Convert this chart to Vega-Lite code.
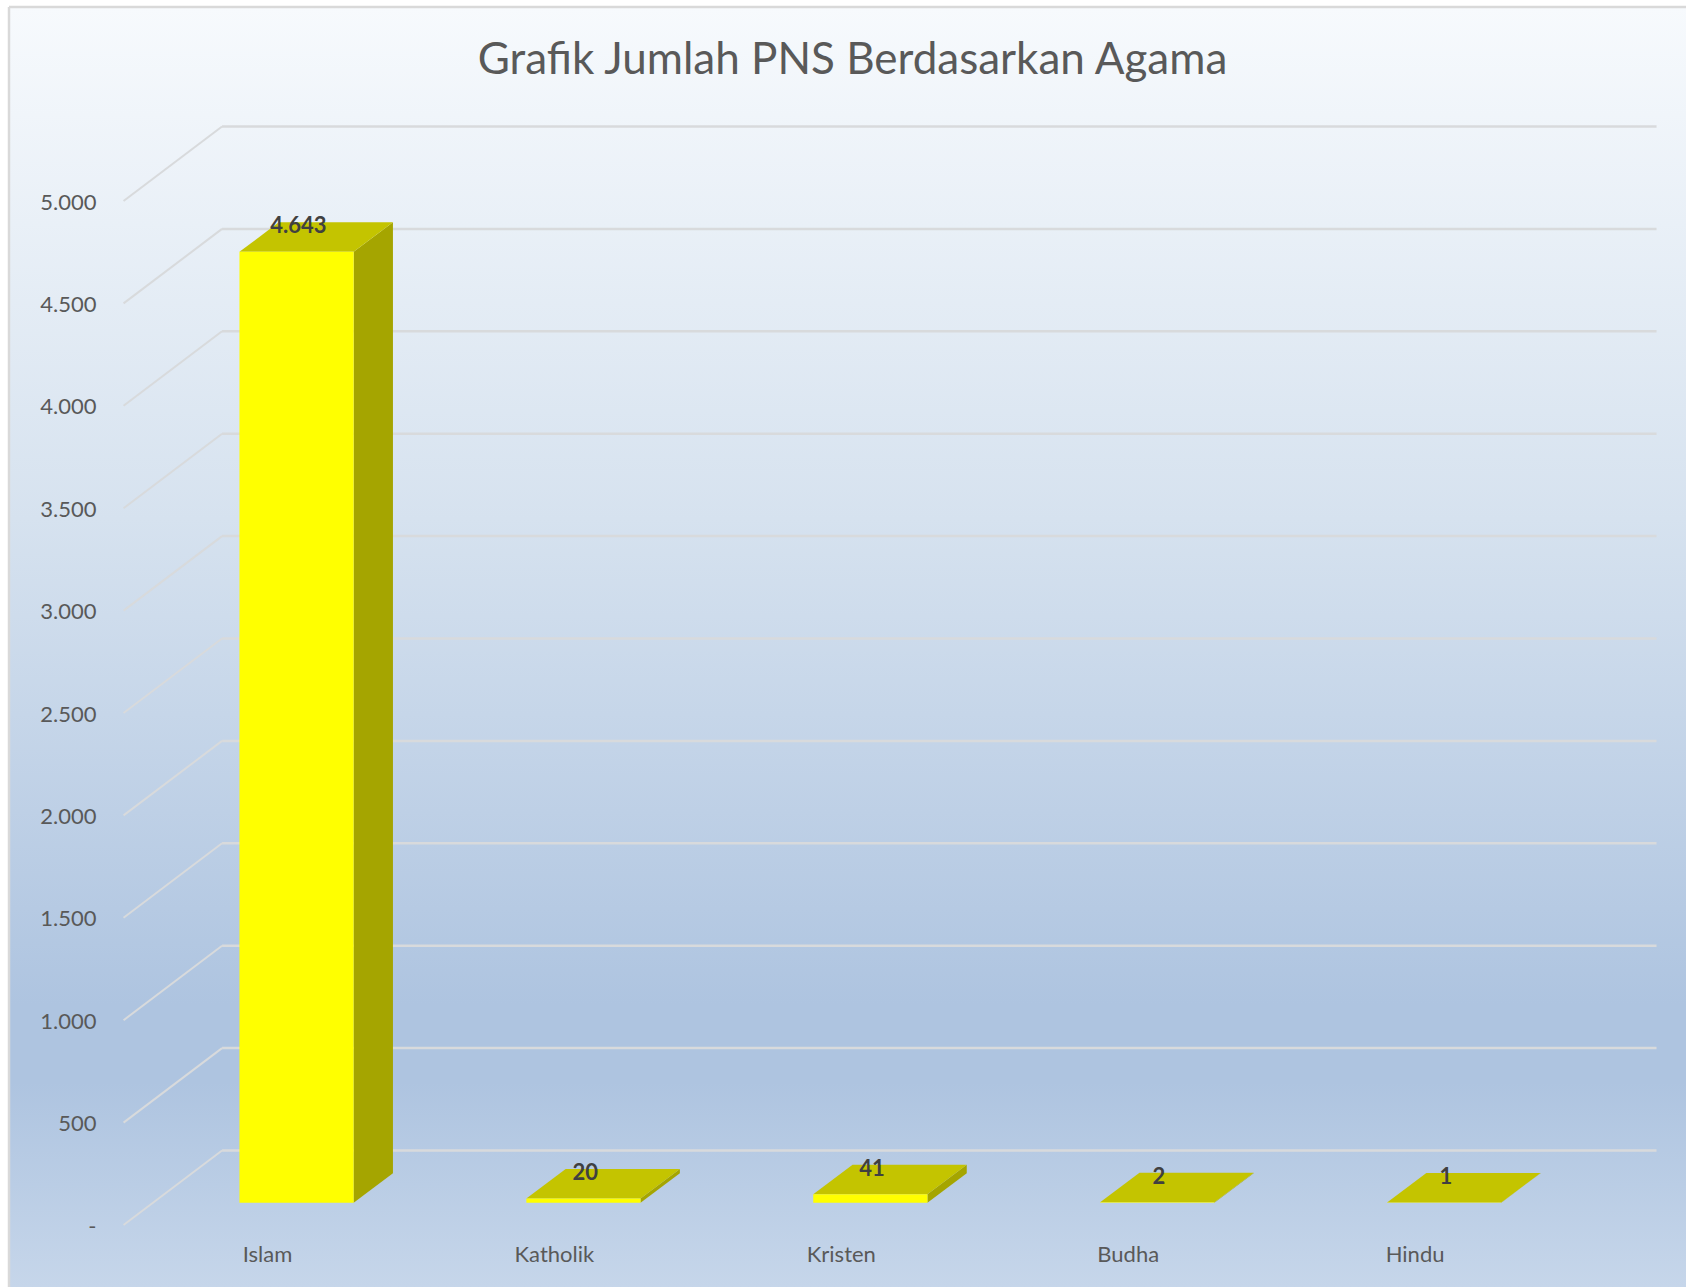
{
  "$schema": "https://vega.github.io/schema/vega-lite/v6.json",
  "width": 1677,
  "height": 1280,
  "autosize": {"type": "none"},
  "padding": {"left": 9, "top": 7, "right": 0, "bottom": 0},
  "background": "#ffffff",
  "view": {
    "stroke": null,
    "fill": {"gradient": "linear", "x1": 0, "y1": 0, "x2": 0, "y2": 1, "stops": [
      {"offset": 0, "color": "#f7fafd"},
      {"offset": 0.4, "color": "#d6e2ef"},
      {"offset": 0.78, "color": "#aec4e0"},
      {"offset": 0.84, "color": "#aec4e0"},
      {"offset": 1, "color": "#c6d6ea"}
    ]}
  },
  "title": {
    "text": "Grafik Jumlah PNS Berdasarkan Agama",
    "font": "Lato",
    "fontSize": 44,
    "fontWeight": "normal",
    "color": "#595959",
    "anchor": "middle",
    "frame": "group",
    "baseline": "middle",
    "offset": -99,
    "dx": 5
  },
  "config": {
    "axisX": {"title": null, "orient": "bottom", "offset": -43, "domain": false, "ticks": false, "grid": false, "labelPadding": 0, "labelFont": "Lato", "labelFontSize": 22, "labelColor": "#595959", "labelBaseline": "top", "labelAlign": "center"},
    "axisY": {"title": null, "orient": "left", "offset": -87, "domain": false, "ticks": false, "grid": false, "labelPadding": 0, "labelOffset": 1, "labelFont": "Lato", "labelFontSize": 22, "labelColor": "#595959"}
  },
  "datasets": {
    "bars": [
      {"agama": "Islam", "jumlah": 4643},
      {"agama": "Katholik", "jumlah": 20},
      {"agama": "Kristen", "jumlah": 41},
      {"agama": "Budha", "jumlah": 2},
      {"agama": "Hindu", "jumlah": 1}
    ],
    "ticks": [
      {"tick": 0}, {"tick": 500}, {"tick": 1000}, {"tick": 1500}, {"tick": 2000}, {"tick": 2500},
      {"tick": 3000}, {"tick": 3500}, {"tick": 4000}, {"tick": 4500}, {"tick": 5000}
    ]
  },
  "encoding": {},
  "layer": [
    {
      "data": {"name": "ticks"},
      "transform": [
        {"calculate": "datum.tick + 363.8", "as": "yb"},
        {"calculate": "0.8433", "as": "xb"},
        {"calculate": "5.8433", "as": "xr"}
      ],
      "mark": {"type": "rule", "color": "#d8dadc", "strokeWidth": 2.5},
      "encoding": {
        "x": {"field": "xb", "type": "quantitative", "title": null,
          "scale": {"domain": [0.1007, 5.946], "nice": false, "zero": false},
          "axis": {"values": [1, 2, 3, 4, 5], "labelExpr": "['Islam','Katholik','Kristen','Budha','Hindu'][datum.value-1]"}},
        "x2": {"field": "xr"},
        "y": {"field": "yb", "type": "quantitative", "title": null,
          "scale": {"domain": [-302.7, 5947.3], "nice": false, "zero": false},
          "axis": {"values": [0, 500, 1000, 1500, 2000, 2500, 3000, 3500, 4000, 4500, 5000], "labelExpr": "datum.value == 0 ? '-    ' : replace(format(datum.value, ','), ',', '.')"}}
      }
    },
    {
      "data": {"name": "ticks"},
      "transform": [
        {"calculate": "datum.tick + 363.8", "as": "yb"},
        {"calculate": "0.5", "as": "xf"},
        {"calculate": "0.8433", "as": "xb"}
      ],
      "mark": {"type": "rule", "color": "#d8dadc", "strokeWidth": 2},
      "encoding": {
        "x": {"field": "xf", "type": "quantitative", "title": null, "scale": {"domain": [0.1007, 5.946], "nice": false, "zero": false}},
        "x2": {"field": "xb"},
        "y": {"field": "tick", "type": "quantitative", "title": null, "scale": {"domain": [-302.7, 5947.3], "nice": false, "zero": false}},
        "y2": {"field": "yb"}
      }
    },
    {
      "data": {"values": [{"edge": "kiri"}]},
      "mark": {"type": "rule", "color": "#d9d9d9", "strokeWidth": 2.5},
      "encoding": {"x": {"datum": 0.1007, "type": "quantitative", "title": null, "scale": {"domain": [0.1007, 5.946], "nice": false, "zero": false}}}
    },
    {
      "data": {"values": [{"edge": "atas"}]},
      "mark": {"type": "rule", "color": "#d9d9d9", "strokeWidth": 2.5},
      "encoding": {"y": {"datum": 5947.3, "type": "quantitative", "title": null, "scale": {"domain": [-302.7, 5947.3], "nice": false, "zero": false}}}
    },
    {
      "data": {"name": "bars"},
      "transform": [
        {"calculate": "indexof(['Islam','Katholik','Kristen','Budha','Hindu'], datum.agama) + 1", "as": "pos"},
        {"calculate": "[0, 1]", "as": "t"},
        {"flatten": ["t"]},
        {"calculate": "datum.pos + 0.103 + 0.199 + datum.t * 0.137", "as": "xs"},
        {"calculate": "datum.jumlah + 109 + datum.t * 144", "as": "yt"},
        {"calculate": "109 + datum.t * 144", "as": "yb"}
      ],
      "mark": {"type": "area", "orient": "vertical", "color": "#a5a500", "interpolate": "linear"},
      "encoding": {
        "x": {"field": "xs", "type": "quantitative", "title": null, "scale": {"domain": [0.1007, 5.946], "nice": false, "zero": false}},
        "y": {"field": "yt", "type": "quantitative", "title": null, "scale": {"domain": [-302.7, 5947.3], "nice": false, "zero": false}},
        "y2": {"field": "yb"},
        "detail": {"field": "agama"}
      }
    },
    {
      "data": {"name": "bars"},
      "transform": [
        {"calculate": "indexof(['Islam','Katholik','Kristen','Budha','Hindu'], datum.agama) + 1", "as": "pos"},
        {"calculate": "[0, 1]", "as": "t"},
        {"flatten": ["t"]},
        {"calculate": "datum.pos + 0.103 - 0.199 + datum.t * 0.137", "as": "xl"},
        {"calculate": "datum.pos + 0.103 + 0.199 + datum.t * 0.137", "as": "xr"},
        {"calculate": "datum.jumlah + 109 + datum.t * 144", "as": "yt"}
      ],
      "mark": {"type": "area", "orient": "horizontal", "color": "#c4c400", "interpolate": "linear"},
      "encoding": {
        "x": {"field": "xl", "type": "quantitative", "title": null, "scale": {"domain": [0.1007, 5.946], "nice": false, "zero": false}},
        "x2": {"field": "xr"},
        "y": {"field": "yt", "type": "quantitative", "title": null, "scale": {"domain": [-302.7, 5947.3], "nice": false, "zero": false}},
        "detail": {"field": "agama"}
      }
    },
    {
      "data": {"name": "bars"},
      "transform": [
        {"calculate": "indexof(['Islam','Katholik','Kristen','Budha','Hindu'], datum.agama) + 1", "as": "pos"},
        {"calculate": "datum.pos + 0.103 - 0.199", "as": "xl"},
        {"calculate": "datum.pos + 0.103 + 0.199", "as": "xr"},
        {"calculate": "datum.jumlah + 109", "as": "yt"},
        {"calculate": "109", "as": "yb"}
      ],
      "mark": {"type": "rect", "color": "#ffff00"},
      "encoding": {
        "x": {"field": "xl", "type": "quantitative", "title": null, "scale": {"domain": [0.1007, 5.946], "nice": false, "zero": false}},
        "x2": {"field": "xr"},
        "y": {"field": "yt", "type": "quantitative", "title": null, "scale": {"domain": [-302.7, 5947.3], "nice": false, "zero": false}},
        "y2": {"field": "yb"}
      }
    },
    {
      "data": {"name": "bars"},
      "transform": [
        {"calculate": "indexof(['Islam','Katholik','Kristen','Budha','Hindu'], datum.agama) + 1", "as": "pos"},
        {"calculate": "datum.pos + 0.109", "as": "xc"},
        {"calculate": "datum.jumlah + 109 + 144 - 20", "as": "yc"},
        {"calculate": "replace(format(datum.jumlah, ','), ',', '.')", "as": "label"}
      ],
      "mark": {"type": "text", "font": "Lato", "fontSize": 22, "fontWeight": "bold", "color": "#404040", "baseline": "middle", "align": "center"},
      "encoding": {
        "x": {"field": "xc", "type": "quantitative", "title": null, "scale": {"domain": [0.1007, 5.946], "nice": false, "zero": false}},
        "y": {"field": "yc", "type": "quantitative", "title": null, "scale": {"domain": [-302.7, 5947.3], "nice": false, "zero": false}},
        "text": {"field": "label"}
      }
    }
  ]
}
